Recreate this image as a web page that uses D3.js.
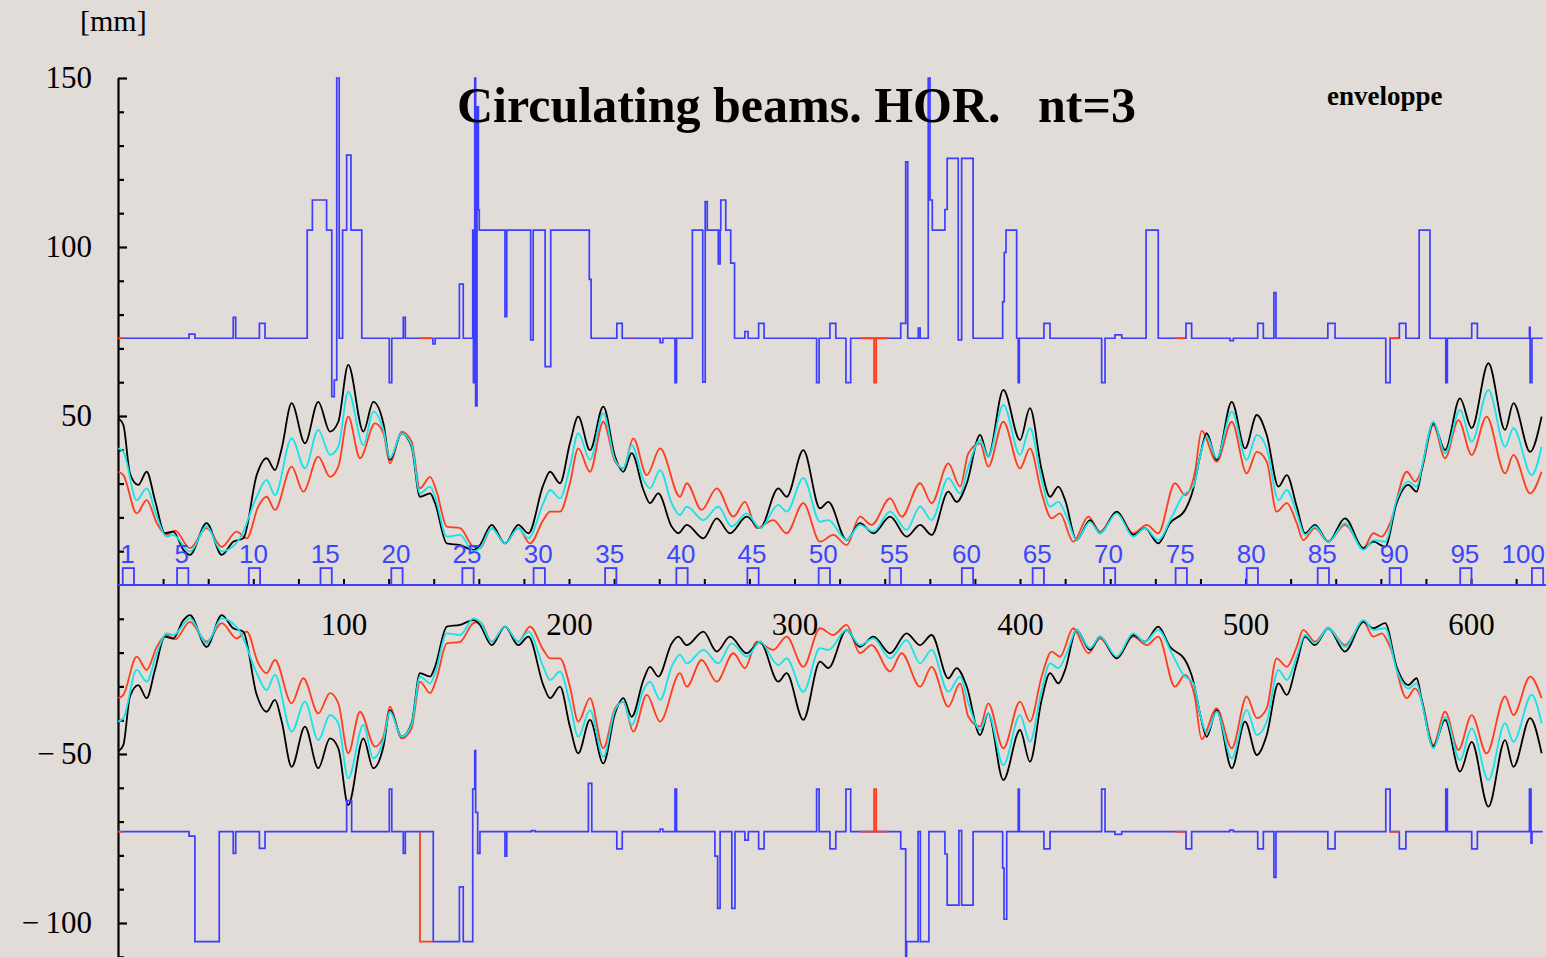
<!DOCTYPE html>
<html><head><meta charset="utf-8">
<script src="https://cdn.jsdelivr.net/npm/d3@7"></script>
<style>
html,body{margin:0;padding:0;background:#e1dcd7;overflow:hidden;}
svg{display:block;}
</style></head><body>
<svg id="chart" width="1546" height="957"></svg>
<script>
// ---------------- DATA ----------------
// upper envelope (lower one is its mirror image), [s, value in mm]
const blackEnv = [[0.1,49.3],[2.4,47.3],[5.3,33],[9.0,29.6],[12.7,33.5],[16.4,25.1],[20.8,15.3],[24.5,15.8],[29.0,10.4],[31.9,8.9],[39.3,18.3],[46.0,8.9],[51.1,12.8],[55.6,13.8],[61.5,32.5],[65.9,37.5],[69.6,34],[72.6,40.4],[77.0,53.8],[82.9,41.9],[88.8,54.2],[94.0,45.4],[97.7,48.3],[102.1,65.1],[108.8,45.4],[113.2,54.2],[117.7,47.8],[120.6,37],[125.8,44.9],[130.2,40.9],[133.9,26.1],[138.4,27.1],[140.6,24.2],[145.8,12.3],[151.7,11.8],[157.6,10.4],
[160.5,11.8],[165.7,17.8],[171.6,12.3],[177.5,17.8],[182.0,15.3],[188.6,29.6],[191.6,33.5],[196.0,30.1],[200.4,41.9],[204.1,49.8],[209.3,39.9],[215.2,52.8],[220.4,38],[224.1,33.5],[227.8,39],[233.0,28.1],[235.9,24.2],[239.6,27.1],[245.5,17.3],[248.5,15.3],[252.2,17.8],[259.6,13.8],[265.5,19.7],[271.4,15.3],[278.8,20.2],[284.7,16.8],[292.8,28.6],[296.5,26.1],[303.9,39.9],[311.3,22.7],[315.0,24.6],[323.1,13.3],
[329.0,18.3],[335.0,15.3],[342.4,20.2],[349.7,14.3],[355.7,17.8],[360.8,14.8],[368.2,27.6],[371.9,24.6],[376.4,30.1],[382.3,44.4],[385.9,38],[392.6,57.7],[400.0,42.9],[404.4,52.3],[409.6,34],[413.3,26.1],[417.0,29.1],[420.0,25.1],[425.1,13.3],[431.0,19.2],[435.5,15.3],[442.9,21.7],[450.2,14.8],[455.4,16.8],[461.3,12.3],[466.5,18.3],[473.2,22.2],[476.9,28.6],
[479.8,38],[482.8,44.9],[487.2,37],[493.9,54.2],[499.8,40.4],[505.0,50.3],[509.4,44.4],[514.6,29.1],[518.3,32.5],[522.7,23.2],[526.4,15.3],[530.8,17.8],[536.7,12.8],[544.1,19.7],[552.3,10.9],[556.7,12.8],[561.9,11.3],[567.0,24.2],[572.2,29.6],[575.9,27.6],[578.1,34],[583.3,47.8],[588.5,39.9],[595.1,55.2],[600.3,46.4],[607.7,65.6],[615.1,45.9],[618.8,53.8],[626.2,39.4],[631.3,49.8]];

const cyanEnv = [[0.1,40.4],[2.4,39.4],[8.3,25.1],[12.7,28.6],[17.2,20.2],[21.6,14.3],[24.5,14.8],[31.9,9.9],[39.3,17.3],[46.0,9.9],[54.1,13.8],[61.5,26.1],[65.9,31.1],[69.6,26.6],[77.0,43.4],[82.9,34.5],[88.8,45.9],[94.0,38.5],[97.7,40.9],[102.1,57.2],[108.8,41.4],[113.2,51.3],[117.7,45.9],[120.6,37.5],[125.8,44.9],[130.2,41.4],[133.9,27.1],[138.4,29.1],[140.6,26.1],[145.8,14.3],[151.7,14.8],[157.6,9.9],
[160.5,10.9],[165.7,16.8],[171.6,12.3],[177.5,16.8],[182.0,13.8],[188.6,24.2],[191.6,28.1],[196.0,25.6],[200.4,35],[204.1,44.9],[209.3,37],[215.2,50.8],[220.4,37],[224.1,34.5],[227.8,41.4],[233.0,31.1],[235.9,28.6],[240.4,34],[245.5,24.2],[249.2,20.7],[252.2,23.2],[259.6,19.2],[266.2,23.2],[272.1,17.3],[278.8,21.2],[284.7,16.8],[292.8,23.7],[296.5,21.7],[303.9,31.6],[311.3,18.7],[315.0,19.2],[323.1,13.3],
[329.0,17.8],[335.0,15.8],[342.4,21.7],[349.7,16.3],[355.7,23.2],[360.8,19.2],[368.2,31.6],[373.4,27.1],[377.1,35],[382.3,42.9],[385.9,38],[392.6,53.3],[400.0,38.5],[404.4,46.4],[409.6,31.1],[413.3,23.2],[417.0,24.6],[420.7,20.2],[425.1,13.3],[431.0,18.7],[435.5,15.3],[442.9,21.2],[450.2,14.3],[455.4,16.8],[461.3,13.3],[467.3,20.2],[472.4,26.6],[476.9,29.1],
[479.8,38],[482.8,43.9],[487.2,37.5],[493.9,51.3],[500.5,37],[505.0,44.4],[509.4,40.4],[514.6,25.1],[518.3,28.1],[522.7,21.2],[526.4,14.8],[530.8,17.3],[536.7,12.8],[544.1,18.3],[552.3,10.4],[556.7,13.3],[561.9,12.8],[567.0,25.1],[572.2,30.6],[575.9,29.1],[578.1,34.5],[583.3,48.3],[588.5,39],[595.1,51.8],[600.3,42.4],[607.7,57.7],[615.1,40.9],[618.8,46.4],[626.9,32.5],[631.3,40.9]];

const redEnv = [[0.1,33.5],[2.4,32.5],[8.3,21.2],[12.7,25.1],[17.2,18.3],[21.6,14.8],[25.3,16.1],[31.9,10.9],[39.3,16.8],[46.0,11.3],[52.6,15.8],[57.1,13.8],[62.2,23.2],[65.9,26.1],[69.6,22.2],[77.0,35],[82.2,27.6],[88.8,38],[94.0,32],[97.7,35],[102.1,49.8],[107.3,37.5],[114.0,47.8],[117.7,44.9],[120.6,36],[125.8,45.4],[130.2,42.4],[133.9,28.6],[138.4,32],[141.3,27.6],[145.8,17.3],[151.7,16.8],[157.6,11.3],
[160.5,10.9],[165.7,16.8],[171.6,12.3],[177.5,16.8],[182.7,12.3],[188.6,19.2],[191.6,21.7],[196.0,21.7],[200.4,30.1],[204.1,40.4],[209.3,33.5],[215.2,48.3],[220.4,36.5],[224.1,34.5],[228.5,43.4],[234.5,32.5],[240.4,40.4],[249.2,26.1],[252.2,30.1],[258.8,22.2],[265.5,28.6],[272.9,20.2],[278.0,24.6],[283.2,16.8],[290.6,19.2],[296.5,15.3],[303.9,24.2],[311.3,12.8],[317.2,14.8],[323.1,11.8],
[329.0,20.2],[334.2,17.8],[342.4,25.6],[347.5,20.2],[355.7,30.1],[360.8,24.2],[368.2,36],[373.4,29.1],[377.1,39],[382.3,41.9],[385.9,35],[392.6,48.3],[400.0,34.5],[404.4,40.4],[409.6,27.1],[414.0,19.7],[417.7,21.2],[423.6,12.8],[430.3,20.2],[435.5,15.8],[442.9,21.7],[450.2,15.3],[456.2,17.8],[461.3,15.3],[468.7,30.1],[473.2,26.6],[477.6,33.5],
[480.5,45.6],[487.2,36.5],[493.9,48.3],[500.5,33],[505.0,39.4],[509.4,36.5],[513.8,21.7],[518.3,24.2],[522.7,18.3],[525.6,13.3],[530.8,16.8],[536.7,12.8],[544.1,17.8],[552.3,10.9],[556.7,15.3],[560.4,14.3],[564.1,18.3],[571.5,33.5],[575.2,30.6],[578.1,34],[583.3,47.3],[588.5,37.5],[594.4,48.8],[600.3,38.5],[606.9,49.8],[615.1,33],[618.8,38.5],[626.2,27.1],[631.3,33.5]];

// blue step traces [s, value] (value holds until next s)
const blueUpper = [[0,73],[31.5,74.2],[34.1,73],[51.1,79.2],[52.2,73],[62.7,77.4],[65.2,73],
[83.9,105],[86.2,113.9],[92.5,105],[94.8,55.7],[95.9,60.6],[97.0,150],[98.1,73],[99.6,105],[101.4,127.2],[103.3,105],[108.1,73],
[120.3,59.9],[121.4,73],[126.5,79.2],[127.4,73],[139.6,71.3],[140.6,73],[151.4,89],[153.1,73],
[157.3,105],[157.6,59.9],[158.2,150],[158.6,53],[159.2,141.5],[159.8,111],[160.2,105],
[171.6,79.4],[172.4,105],[183.0,72.5],[184.1,105],[189.4,64.6],[191.9,105],[209.0,90.4],[209.8,73],
[221.2,77.4],[223.6,73],[240.4,71.7],[241.6,73],[247.0,59.9],[247.7,73],
[254.7,105],[259.3,60],[260.4,113.4],[261.3,105],[266.2,95],[267.0,105],[267.3,113.9],[269.5,105],[271.7,95.2],[273.4,73],
[278.0,75],[279.4,73],[284.1,77.4],[286.5,73],[309.8,59.9],[310.9,73],[315.7,77.4],[318.3,73],[322.8,59.9],[324.9,73],
[347.1,77.4],[349.3,125.2],[350.2,73],[354.9,76],[355.7,73],
[359.3,150],[360.1,113.9],[361.1,105],[366.7,111.1],[367.7,126.2],[372.6,72.5],[374.1,126.2],[379.2,73],
[392.3,83.8],[393.0,98.4],[393.8,105],[398.5,73],[399.2,59.9],[399.7,73],
[410.6,77.4],[413.3,73],[436.2,59.9],[437.7,73],[442.1,74],[445.1,73],[455.9,105],[461.3,73],
[473.6,77.4],[476.1,73],[493.1,72.3],[494.6,73],[505.4,77.4],[507.9,73],[512.6,86.5],[513.5,73],
[536.5,77.4],[539.7,73],[562.2,59.9],[564.1,73],[568.2,77.4],[571.1,73],[577.0,105],[581.8,73],
[588.8,59.9],[589.5,73],[600.3,77.4],[602.8,73],[625.9,76.2],[626.2,59.9],[627.0,73],[631.8,73]];

const blueLower = [[0,-73],[31.5,-74.3],[34.1,-105.5],[44.9,-73],[51.1,-79.4],[52.2,-73],[62.7,-77.9],[65.2,-73],
[101.4,-63.8],[103.6,-73],[120.3,-60.4],[121.4,-73],[126.5,-79.4],[127.4,-73],
[139.8,-105.5],[151.4,-89.3],[153.1,-105.5],[157.3,-60.4],[158.2,-49],[158.6,-67.3],[159.5,-79.4],[160.5,-73],
[171.6,-80.2],[172.4,-73],[183.4,-72.7],[184.9,-73],[208.6,-58.7],[210.1,-73],[221.2,-78.1],[223.6,-73],
[240.4,-72.2],[241.6,-73],[247.0,-60.4],[247.7,-73],
[264.7,-80.2],[265.9,-95.7],[267.0,-73],[272.2,-95.7],[273.6,-73],[278.0,-75.5],[279.5,-73],
[284.1,-78.1],[286.5,-73],[309.8,-60.4],[310.9,-73],[315.7,-78.1],[318.3,-73],[322.8,-60.4],[324.9,-73],
[347.1,-78.1],[349.3,-112],[349.7,-105.5],[354.8,-73],[355.8,-105.5],[359.6,-73],
[366.7,-79.6],[367.7,-94.7],[372.9,-72.7],[374.1,-94.7],[379.2,-73],
[392.3,-83.8],[392.9,-98.9],[394.1,-73],[399.2,-60.4],[399.7,-73],[410.6,-78.1],[413.3,-73],
[436.2,-60.4],[437.7,-73],[442.1,-73.8],[445.1,-73],[473.6,-78.1],[476.1,-73],[493.1,-72.5],[494.6,-73],
[505.4,-78.1],[507.9,-73],[512.6,-86.5],[513.5,-73],[536.5,-78.1],[539.7,-73],[562.2,-60.4],[564.1,-73],
[568.2,-78.1],[571.1,-73],[588.8,-60.4],[589.5,-73],[600.3,-78.1],[602.8,-73],[625.9,-60.4],[626.6,-76.4],[627.0,-73],[631.8,-73]];

// red trace pieces visible over the blue ones (polylines)
const redUpperPieces = [
  [[0,73],[2.2,73]],
  [[133.9,73],[139.0,73]],
  [[227.5,73],[228.3,73]],
  [[329.3,73],[335.3,73],[335.3,59.9],[336.2,59.9],[336.2,73],[341.6,73]],
  [[468.7,73],[473.2,73]],
  [[518.4,73],[519.1,73]],
  [[563.7,73],[568.2,73]]
];
const redLowerPieces = [
  [[0,-73],[2.2,-73]],
  [[133.9,-73],[133.9,-105.5],[139.8,-105.5]],
  [[227.5,-73],[228.3,-73]],
  [[329.3,-73],[335.3,-73],[335.3,-60.4],[336.2,-60.4],[336.2,-73],[341.6,-73]],
  [[468.7,-73],[473.2,-73]],
  [[518.4,-73],[519.1,-73]],
  [[563.7,-73],[568.2,-73]]
];

// element markers along the axis
const markerLabels = [1,5,10,15,20,25,30,35,40,45,50,55,60,65,70,75,80,85,90,95,100];
const markerPos = [4.6,28.7,60.5,92.3,123.7,155.2,186.8,218.5,250.1,281.6,313.2,344.7,376.7,408.1,439.7,471.5,503.0,534.5,566.4,597.7,629.5];

const xMinorTicks = [20,40,60,80,100,120,140,160,180,200,220,240,260,280,300,320,340,360,380,400,420,440,460,480,500,520,540,560,580,600,620];
const xLabelTicks = [100,200,300,400,500,600];
const yMajorTicks = [150,100,50,-50,-100];
const yMinorTicks = [140,130,120,110,90,80,70,60,40,30,20,10,-10,-20,-30,-40,-60,-70,-80,-90,-110];

const titleText = "Circulating beams. HOR.\u00a0\u00a0\u00a0nt=3";
const unitText = "[mm]";
const noteText = "enveloppe";

// ---------------- DRAW ----------------
const W = 1546, H = 957;
const svg = d3.select('#chart');
const BG = '#e1dcd7', BLUE = '#3d3dff', RED = '#ff3c1e', CYAN = '#12e4ec', BLACK = '#000';

svg.append('rect').attr('width',W).attr('height',H).attr('fill',BG);

const x = d3.scaleLinear().domain([0,632]).range([118,1543.2]);
const y = d3.scaleLinear().domain([-110.6,150]).range([958.8,78]);
const serif = "'Liberation Serif','Times New Roman',serif";

// y axis
const gMinor = svg.append('g').attr('transform',`translate(${x(0)},0)`)
  .call(d3.axisLeft(y).tickValues(yMinorTicks).tickSizeInner(-6).tickSizeOuter(0).tickFormat(''));
gMinor.select('.domain').attr('stroke',BLACK).attr('stroke-width',2.2);
gMinor.selectAll('.tick line').attr('stroke',BLACK).attr('stroke-width',2.2);

const gMajor = svg.append('g').attr('transform',`translate(${x(0)},0)`)
  .call(d3.axisLeft(y).tickValues(yMajorTicks).tickSizeInner(-9).tickSizeOuter(0).tickPadding(26)
    .tickFormat(d => d < 0 ? '\u2212\u2009' + Math.abs(d) : String(d)));
gMajor.select('.domain').remove();
gMajor.selectAll('.tick line').attr('stroke',BLACK).attr('stroke-width',2.2);
gMajor.selectAll('.tick text').attr('font-family',serif).attr('font-size',31).attr('fill',BLACK);

// x axis (ticks on the zero line, labels below)
const gx = svg.append('g').attr('transform',`translate(0,${y(0)})`)
  .call(d3.axisBottom(x).tickValues(xMinorTicks).tickSizeInner(-6).tickSizeOuter(0).tickPadding(28)
    .tickFormat(d => xLabelTicks.includes(d) ? String(d) : ''));
gx.select('.domain').remove();
gx.selectAll('.tick line').attr('stroke',BLACK).attr('stroke-width',2);
gx.selectAll('.tick text').attr('font-family',serif).attr('font-size',31).attr('fill',BLACK);

// envelopes
const envUp = d3.line().x(d => x(d[0])).y(d => y(d[1])).curve(d3.curveMonotoneX);
const envDn = d3.line().x(d => x(d[0])).y(d => y(-d[1])).curve(d3.curveMonotoneX);
[[redEnv,RED],[blackEnv,BLACK],[cyanEnv,CYAN]].forEach(([data,col]) => {
  svg.append('path').attr('d',envUp(data)).attr('fill','none').attr('stroke',col).attr('stroke-width',1.8).attr('stroke-linejoin','round');
  svg.append('path').attr('d',envDn(data)).attr('fill','none').attr('stroke',col).attr('stroke-width',1.8).attr('stroke-linejoin','round');
});

// blue step traces
const step = d3.line().x(d => x(d[0])).y(d => y(d[1])).curve(d3.curveStepAfter);
[blueUpper, blueLower].forEach(data => {
  svg.append('path').attr('d',step(data)).attr('fill','none').attr('stroke',BLUE).attr('stroke-width',1.7);
});
const poly = d3.line().x(d => x(d[0])).y(d => y(d[1]));
redUpperPieces.concat(redLowerPieces).forEach(p => {
  svg.append('path').attr('d',poly(p)).attr('fill','none').attr('stroke',RED).attr('stroke-width',1.8);
});

// zero line and element markers
svg.append('line').attr('x1',x(0)).attr('x2',W).attr('y1',y(0)).attr('y2',y(0))
  .attr('stroke',BLUE).attr('stroke-width',2);
const mk = svg.append('g');
markerPos.forEach((p,i) => {
  mk.append('rect').attr('x',x(p-2.5)).attr('y',y(5)).attr('width',x(p+2.5)-x(p-2.5)).attr('height',y(0)-y(5))
    .attr('fill','none').attr('stroke',BLUE).attr('stroke-width',1.8);
  const t = mk.append('text').attr('x',x(p)-1).attr('y',563).attr('text-anchor','middle')
    .attr('font-family',"'Liberation Sans',Arial,sans-serif").attr('font-size',26).attr('fill','#3a46ff')
    .text(markerLabels[i]);
  // keep the label inside the picture
  const bb = t.node().getBBox();
  if (bb.x + bb.width > W - 1) t.attr('text-anchor','end').attr('x', W - 1);
});

// texts
svg.append('text').attr('x',457).attr('y',122).attr('font-family',serif).attr('font-weight','bold')
  .attr('font-size',50).attr('fill',BLACK).text(titleText);
svg.append('text').attr('x',1327).attr('y',105).attr('font-family',serif).attr('font-weight','bold')
  .attr('font-size',27).attr('fill',BLACK).text(noteText);
svg.append('text').attr('x',80).attr('y',31).attr('font-family',serif)
  .attr('font-size',30).attr('fill',BLACK).text(unitText);
</script>
</body></html>
